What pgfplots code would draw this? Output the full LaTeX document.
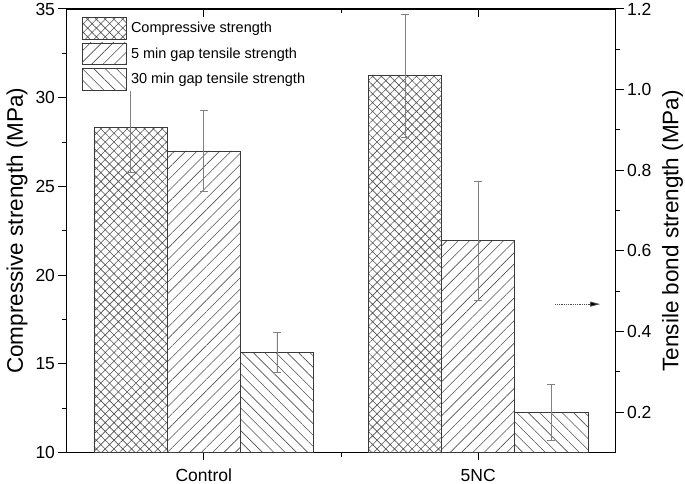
\documentclass[border=0pt]{standalone}
\usepackage{fontspec}
\setmainfont{Liberation Sans}
\usepackage{pgfplots}
\pgfplotsset{compat=1.18}
\usetikzlibrary{patterns.meta, arrows.meta}

\definecolor{barline}{HTML}{3A3A3A}
\definecolor{hatchc}{HTML}{505050}
\definecolor{errc}{HTML}{808080}

\pgfplotsset{
  base/.style={
    scale only axis, width=549pt, height=443.5pt,
    xmin=0.5, xmax=2.5,
    axis line style={line width=1.2pt, black},
    major tick length=8pt, minor tick length=4.5pt,
    every tick/.style={black, line width=1pt},
    /pgf/number format/assume math mode=true,
    tick label style={font=\fontsize{17.5}{21}\selectfont},
  },
  compstyle/.style={draw=barline, line width=0.8pt, pattern={Hatch[angle=45,distance=6.2pt,line width=0.6pt]}, pattern color=hatchc},
  fivestyle/.style={draw=barline, line width=0.8pt, pattern={Lines[angle=45,distance=8pt,line width=0.6pt]}, pattern color=hatchc},
  thirtystyle/.style={draw=barline, line width=0.8pt, pattern={Lines[angle=-45,distance=8pt,line width=0.6pt]}, pattern color=hatchc},
  errstyle/.style={/pgfplots/error bars/y dir=both, /pgfplots/error bars/y explicit,
    /pgfplots/error bars/error bar style={errc, line width=0.8pt},
    /pgfplots/error bars/error mark options={rotate=90, errc, mark size=4pt, line width=0.8pt}},
}

\begin{document}
\begin{tikzpicture}
\path[use as bounding box] (-66.5pt,-31.5pt) rectangle (618.5pt,452.5pt);

% left axis: compressive
\begin{axis}[base,
  ymin=10, ymax=35, ytick={10,15,...,35}, minor y tick num=1,
  xtick={1,2}, xticklabels={Control,5NC}, minor xtick={1.5},
  xticklabel style={yshift=-5pt},
  tick pos=left, tick align=outside,
  ylabel={Compressive strength (MPa)},
  every axis y label/.style={at={(axis description cs:-0.0902,0.5)}, rotate=90, anchor=center, font=\fontsize{22.5}{27}\selectfont},
  legend image code/.code={\draw[#1] (0pt,-10.85pt) rectangle (44pt,10.85pt);},
  legend style={at={(rel axis cs:0,1)}, anchor=north west, xshift=15.5pt, yshift=-7.7pt,
    draw=none, fill=white, inner sep=0pt, row sep=3.3pt, column sep=4pt,
    nodes={inner sep=0pt}, font=\fontsize{14.5}{17}\selectfont},
  legend cell align=left,
]
% compressive bars (left of each group)
\addplot[ybar, bar width=0.2667, bar shift=0, compstyle, errstyle, forget plot]
  coordinates {(0.7333,28.3) +- (0,2.5) (1.7333,31.25) +- (0,3.47)};
\addlegendimage{compstyle}
\addlegendentry{Compressive strength}
\addlegendimage{fivestyle}
\addlegendentry{5 min gap tensile strength}
\addlegendimage{thirtystyle}
\addlegendentry{30 min gap tensile strength}
\end{axis}

% right axis: tensile
\begin{axis}[base,
  ymin=0.1, ymax=1.2, ytick={0.2,0.4,...,1.2}, minor y tick num=1,
  axis y line*=right, hide x axis, tick align=outside,
  yticklabel style={/pgf/number format/.cd, fixed, fixed zerofill, precision=1},
  ylabel={Tensile bond strength (MPa)},
  every axis y label/.style={at={(axis description cs:1.1038,0.5)}, rotate=90, anchor=center, font=\fontsize{22.5}{27}\selectfont},
]
% 5 min gap (middle of each group)
\addplot[ybar, bar width=0.2667, bar shift=0, fivestyle, errstyle]
  coordinates {(1,0.848) +- (0,0.1) (2,0.625) +- (0,0.148)};
% 30 min gap (right of each group)
\addplot[ybar, bar width=0.2667, bar shift=0, thirtystyle, errstyle]
  coordinates {(1.2667,0.349) +- (0,0.05) (2.2667,0.2) +- (0,0.07)};
\draw[densely dotted, line width=0.8pt, black!70, -{Triangle[length=10pt,width=5pt,fill=black]}]
  (axis cs:2.28,0.468) -- (axis cs:2.444,0.468);
\end{axis}

% top ticks pointing inside
\begin{axis}[base,
  ymin=0, ymax=1, hide y axis, axis x line*=top,
  xtick={1,2}, xticklabels={}, minor xtick={1.5}, tick align=inside,
]
\end{axis}
\end{tikzpicture}
\end{document}
